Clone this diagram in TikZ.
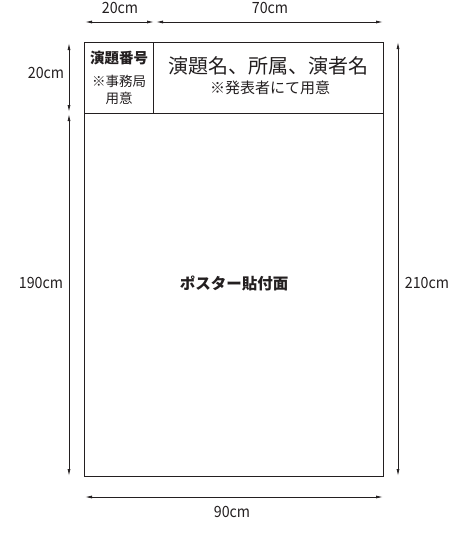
\documentclass[tikz,border=0pt]{standalone}
\usepackage{fontspec}
\setmainfont{Noto Sans CJK JP}
\newfontfamily\dimfont[FakeStretch=0.92]{Noto Sans CJK JP}
\usetikzlibrary{arrows.meta, positioning, calc}
\definecolor{inkgray}{HTML}{231F20}

\tikzset{
  dimline/.style={inkgray, line width=0.8pt, {Latex[length=7pt,width=3pt]}-{Latex[length=7pt,width=3pt]}},
  dimlabel/.style={inkgray, font=\fontsize{15.5}{15.5}\selectfont\dimfont, inner sep=0pt},
  frameline/.style={inkgray, line width=1pt}
}

\begin{document}
\begin{tikzpicture}[x=1pt, y=-1pt]
  \useasboundingbox (0,0) rectangle (453,536);

  % Poster frame and header cells
  \coordinate (tl) at (84,42);
  \coordinate (br) at (383,476);
  \coordinate (hl) at (84,113);
  \coordinate (hr) at (383,113);
  \coordinate (dt) at (153,42);
  \coordinate (db) at (153,113);
  \draw[frameline] (tl) rectangle (br);
  \draw[frameline] (hl) -- (hr);
  \draw[frameline] (dt) -- (db);

  % Header texts
  \node[inkgray, font=\fontsize{14.5}{14.5}\selectfont\bfseries] (numhead) at (119,58) {演題番号};
  \node[inkgray, font=\fontsize{13.5}{13.5}\selectfont, align=center] (numnote) at (119,90) {※事務局\\[3pt]用意};
  \node[inkgray, font=\fontsize{20}{20}\selectfont] (titlehead) at (268,66) {演題名、所属、演者名};
  \node[inkgray, font=\fontsize{15}{15}\selectfont] (titlenote) at (270,88) {※発表者にて用意};
  \node[inkgray, font=\fontsize{15.5}{15.5}\selectfont\bfseries] (area) at (234,283) {ポスター貼付面};

  % Dimension arrows - top
  \coordinate (t1) at (85,22);
  \coordinate (t2) at (154,22);
  \coordinate (t3) at (156,22);
  \coordinate (t4) at (383,22);
  \draw[dimline] (t1) -- (t2);
  \draw[dimline] (t3) -- (t4);
  \node[dimlabel] (w20) at (120,8) {20cm};
  \node[dimlabel] (w70) at (270,8) {70cm};

  % Dimension arrows - left
  \coordinate (l1) at (69,43);
  \coordinate (l2) at (69,112);
  \coordinate (l3) at (69,114);
  \coordinate (l4) at (69,476);
  \draw[dimline] (l1) -- (l2);
  \draw[dimline] (l3) -- (l4);
  \node[dimlabel] (h20) at (46,73) {20cm};
  \node[dimlabel] (h190) at (41,283) {190cm};

  % Dimension arrows - right and bottom
  \coordinate (r1) at (398,42);
  \coordinate (r2) at (398,476);
  \draw[dimline] (r1) -- (r2);
  \node[dimlabel] (h210) at (427,283) {210cm};
  \coordinate (b1) at (85,497);
  \coordinate (b2) at (383,497);
  \draw[dimline] (b1) -- (b2);
  \node[dimlabel] (w90) at (232,512) {90cm};
\end{tikzpicture}
\end{document}
